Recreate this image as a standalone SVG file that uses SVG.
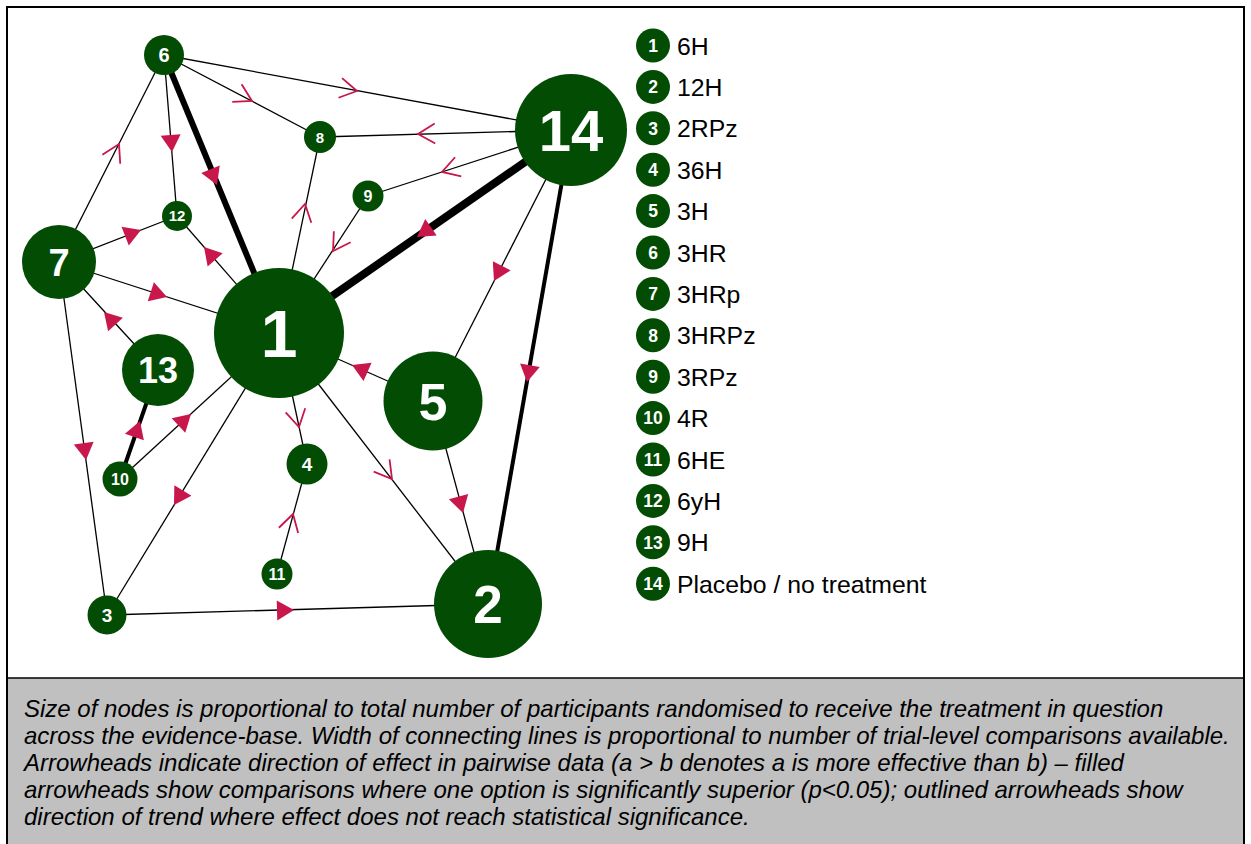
<svg xmlns="http://www.w3.org/2000/svg" xmlns:xlink="http://www.w3.org/1999/xlink" width="1251" height="844" viewBox="0 0 1251 844">
<style>
.e{stroke:#000;stroke-width:1.3;fill:none}
.n{fill:#034c03}
.nl{fill:#fff;font-family:"Liberation Sans",Arial,sans-serif;font-weight:bold;text-anchor:middle}
.lg{fill:#000;font-family:"Liberation Sans",Arial,sans-serif;font-size:24.8px}
.cap{fill:#000;font-family:"Liberation Sans",Arial,sans-serif;font-size:24px;font-style:italic}
.fa{fill:#c8174a}
.oa{fill:none;stroke:#c8174a;stroke-width:1.8}
</style>
<defs>
<path id="fa" class="fa" d="M0,0 L-17,-10 L-17,10 Z"/>
<path id="oa" class="oa" d="M-17,-10 L0,0 L-17,10"/>
</defs>
<rect x="0" y="0" width="1251" height="844" fill="#fff"/>
<rect x="7" y="678" width="1237" height="166" fill="#c0c0c0"/>
<rect x="7" y="7" width="1237" height="840" fill="none" stroke="#000" stroke-width="2"/>
<line x1="7" y1="678" x2="1244" y2="678" stroke="#000" stroke-width="1.5"/>
<g id="connectors">
<line class="e" x1="164" y1="55" x2="571" y2="130"/>
<line class="e" x1="164" y1="55" x2="320" y2="137"/>
<line class="e" x1="164" y1="55" x2="177" y2="216"/>
<line class="e" x1="164" y1="55" x2="279" y2="333" style="stroke-width:6"/>
<line class="e" x1="164" y1="55" x2="59" y2="262"/>
<line class="e" x1="571" y1="130" x2="320" y2="137"/>
<line class="e" x1="571" y1="130" x2="368" y2="196"/>
<line class="e" x1="571" y1="130" x2="279" y2="333" style="stroke-width:8"/>
<line class="e" x1="571" y1="130" x2="433" y2="401"/>
<line class="e" x1="571" y1="130" x2="488" y2="604" style="stroke-width:4"/>
<line class="e" x1="320" y1="137" x2="279" y2="333"/>
<line class="e" x1="368" y1="196" x2="279" y2="333"/>
<line class="e" x1="59" y1="262" x2="177" y2="216"/>
<line class="e" x1="177" y1="216" x2="279" y2="333"/>
<line class="e" x1="59" y1="262" x2="279" y2="333"/>
<line class="e" x1="59" y1="262" x2="158" y2="370"/>
<line class="e" x1="59" y1="262" x2="107" y2="615"/>
<line class="e" x1="158" y1="370" x2="120" y2="479" style="stroke-width:4"/>
<line class="e" x1="120" y1="479" x2="279" y2="333"/>
<line class="e" x1="279" y1="333" x2="107" y2="615"/>
<line class="e" x1="279" y1="333" x2="307" y2="464"/>
<line class="e" x1="279" y1="333" x2="488" y2="604"/>
<line class="e" x1="433" y1="401" x2="279" y2="333"/>
<line class="e" x1="433" y1="401" x2="488" y2="604"/>
<line class="e" x1="307" y1="464" x2="277" y2="574"/>
<line class="e" x1="107" y1="615" x2="488" y2="604"/>
<use xlink:href="#oa" transform="translate(357,91) rotate(10.4)"/>
<use xlink:href="#oa" transform="translate(252,101) rotate(27.7)"/>
<use xlink:href="#fa" transform="translate(172,152) rotate(85.4)"/>
<use xlink:href="#fa" transform="translate(217,185) rotate(67.5)"/>
<use xlink:href="#oa" transform="translate(119,144) rotate(-63.1)"/>
<use xlink:href="#oa" transform="translate(418,134) rotate(178.4)"/>
<use xlink:href="#oa" transform="translate(442,172) rotate(162)"/>
<use xlink:href="#fa" transform="translate(417,237) rotate(145.2)"/>
<use xlink:href="#fa" transform="translate(494,281) rotate(117)"/>
<use xlink:href="#fa" transform="translate(527,382) rotate(99.9)"/>
<use xlink:href="#oa" transform="translate(305,204) rotate(-78.2)"/>
<use xlink:href="#oa" transform="translate(333,251) rotate(123)"/>
<use xlink:href="#fa" transform="translate(141,230) rotate(-21.3)"/>
<use xlink:href="#fa" transform="translate(204,247) rotate(-131.1)"/>
<use xlink:href="#fa" transform="translate(167,297) rotate(17.9)"/>
<use xlink:href="#fa" transform="translate(104,312) rotate(-132.5)"/>
<use xlink:href="#fa" transform="translate(86,460) rotate(82.3)"/>
<use xlink:href="#fa" transform="translate(140,421) rotate(-70.8)"/>
<use xlink:href="#fa" transform="translate(191,414) rotate(-42.6)"/>
<use xlink:href="#fa" transform="translate(174,505) rotate(121.4)"/>
<use xlink:href="#oa" transform="translate(299,427) rotate(77.9)"/>
<use xlink:href="#oa" transform="translate(392,479) rotate(52.4)"/>
<use xlink:href="#fa" transform="translate(352,365) rotate(-156.2)"/>
<use xlink:href="#fa" transform="translate(463,513) rotate(74.8)"/>
<use xlink:href="#oa" transform="translate(293,514) rotate(-74.7)"/>
<use xlink:href="#fa" transform="translate(294,610) rotate(-1.65)"/>
</g>
<g id="node1"><circle class="n" cx="279" cy="333" r="65"/><text class="nl" x="279" y="357" font-size="66">1</text></g>
<g id="node2"><circle class="n" cx="488" cy="604" r="54"/><text class="nl" x="488" y="623" font-size="53">2</text></g>
<g id="node3"><circle class="n" cx="107" cy="615" r="19.5"/><text class="nl" x="107" y="622" font-size="19">3</text></g>
<g id="node4"><circle class="n" cx="307" cy="464" r="20.5"/><text class="nl" x="307" y="471" font-size="19">4</text></g>
<g id="node5"><circle class="n" cx="433" cy="401" r="49.5"/><text class="nl" x="433" y="420" font-size="52">5</text></g>
<g id="node6"><circle class="n" cx="164" cy="55" r="20"/><text class="nl" x="164" y="62.3" font-size="20">6</text></g>
<g id="node7"><circle class="n" cx="59" cy="262" r="37"/><text class="nl" x="59" y="276" font-size="38">7</text></g>
<g id="node8"><circle class="n" cx="320" cy="137" r="16"/><text class="nl" x="320" y="142.5" font-size="15">8</text></g>
<g id="node9"><circle class="n" cx="368" cy="196" r="15.5"/><text class="nl" x="368" y="201.7" font-size="16">9</text></g>
<g id="node10"><circle class="n" cx="120" cy="479" r="17.5"/><text class="nl" x="120" y="485" font-size="16">10</text></g>
<g id="node11"><circle class="n" cx="277" cy="574" r="15.5"/><text class="nl" x="277" y="580" font-size="16">11</text></g>
<g id="node12"><circle class="n" cx="177" cy="216" r="15"/><text class="nl" x="177" y="221.4" font-size="15">12</text></g>
<g id="node13"><circle class="n" cx="158" cy="370" r="36"/><text class="nl" x="158" y="383" font-size="36">13</text></g>
<g id="node14"><circle class="n" cx="571" cy="130" r="56"/><text class="nl" x="571" y="151" font-size="58">14</text></g>
<g id="legend">
<circle class="n" cx="653" cy="45.5" r="17"/><text class="nl" x="653" y="51.8" font-size="17.5">1</text><text class="lg" x="677" y="54.5">6H</text>
<circle class="n" cx="653" cy="86.9" r="17"/><text class="nl" x="653" y="93.2" font-size="17.5">2</text><text class="lg" x="677" y="95.9">12H</text>
<circle class="n" cx="653" cy="128.3" r="17"/><text class="nl" x="653" y="134.6" font-size="17.5">3</text><text class="lg" x="677" y="137.3">2RPz</text>
<circle class="n" cx="653" cy="169.7" r="17"/><text class="nl" x="653" y="176" font-size="17.5">4</text><text class="lg" x="677" y="178.7">36H</text>
<circle class="n" cx="653" cy="211.1" r="17"/><text class="nl" x="653" y="217.4" font-size="17.5">5</text><text class="lg" x="677" y="220.1">3H</text>
<circle class="n" cx="653" cy="252.5" r="17"/><text class="nl" x="653" y="258.8" font-size="17.5">6</text><text class="lg" x="677" y="261.5">3HR</text>
<circle class="n" cx="653" cy="293.9" r="17"/><text class="nl" x="653" y="300.2" font-size="17.5">7</text><text class="lg" x="677" y="302.9">3HRp</text>
<circle class="n" cx="653" cy="335.3" r="17"/><text class="nl" x="653" y="341.6" font-size="17.5">8</text><text class="lg" x="677" y="344.3">3HRPz</text>
<circle class="n" cx="653" cy="376.7" r="17"/><text class="nl" x="653" y="383" font-size="17.5">9</text><text class="lg" x="677" y="385.7">3RPz</text>
<circle class="n" cx="653" cy="418.1" r="17"/><text class="nl" x="653" y="424.4" font-size="17.5">10</text><text class="lg" x="677" y="427.1">4R</text>
<circle class="n" cx="653" cy="459.5" r="17"/><text class="nl" x="653" y="465.8" font-size="17.5">11</text><text class="lg" x="677" y="468.5">6HE</text>
<circle class="n" cx="653" cy="500.9" r="17"/><text class="nl" x="653" y="507.2" font-size="17.5">12</text><text class="lg" x="677" y="509.9">6yH</text>
<circle class="n" cx="653" cy="542.3" r="17"/><text class="nl" x="653" y="548.6" font-size="17.5">13</text><text class="lg" x="677" y="551.3">9H</text>
<circle class="n" cx="653" cy="583.7" r="17"/><text class="nl" x="653" y="590" font-size="17.5">14</text><text class="lg" x="677" y="592.7">Placebo / no treatment</text>
</g>
<g id="caption">
<text class="cap" x="24" y="717">Size of nodes is proportional to total number of participants randomised to receive the treatment in question</text>
<text class="cap" x="24" y="744">across the evidence-base. Width of connecting lines is proportional to number of trial-level comparisons available.</text>
<text class="cap" x="24" y="771">Arrowheads indicate direction of effect in pairwise data (a &gt; b denotes a is more effective than b) – filled</text>
<text class="cap" x="24" y="798">arrowheads show comparisons where one option is significantly superior (p&lt;0.05); outlined arrowheads show</text>
<text class="cap" x="24" y="825">direction of trend where effect does not reach statistical significance.</text>
</g>
</svg>
